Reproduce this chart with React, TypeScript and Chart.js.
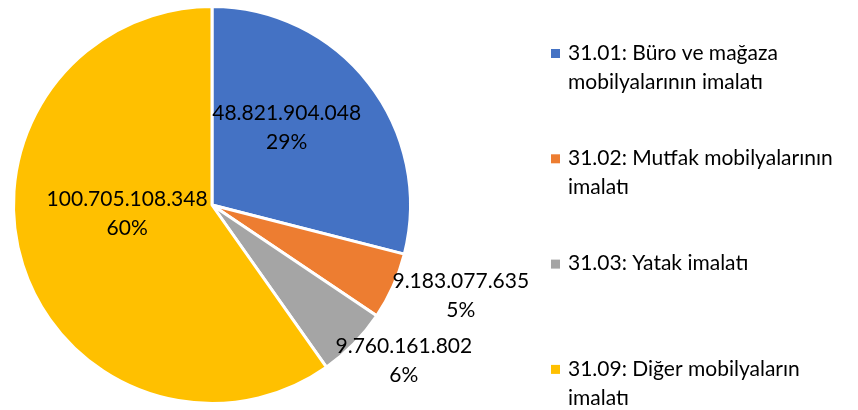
import React, { useEffect, useRef } from "react";
import { Chart, registerables } from "chart.js";

Chart.register(...registerables);

const categories: string[][] = [
  ["31.01: Büro ve mağaza", "mobilyalarının imalatı"],
  ["31.02: Mutfak mobilyalarının", "imalatı"],
  ["31.03: Yatak imalatı"],
  ["31.09: Diğer mobilyaların", "imalatı"],
];
const values: number[] = [48821904048, 9183077635, 9760161802, 100705108348];
const colors: string[] = ["#4472C4", "#ED7D31", "#A5A5A5", "#FFC000"];

// label placement style: [radius factor, angle shift in degrees]
const labelPlacement: [number, number][] = [
  [0.54, -8],
  [1.335, -4],
  [1.245, -5.3],
  [0.43, 11.6],
];

const FONT = "Lato, Carlito, 'Open Sans', sans-serif";

function fmt(n: number): string {
  return Math.round(n)
    .toString()
    .replace(/\B(?=(\d{3})+(?!\d))/g, ".");
}

const labelPlugin = {
  id: "pieLabels",
  afterDatasetsDraw(chart: any) {
    const ctx = chart.ctx as CanvasRenderingContext2D;
    const meta = chart.getDatasetMeta(0);
    const data = chart.data.datasets[0].data as number[];
    const total = data.reduce((a, b) => a + b, 0);
    ctx.save();
    ctx.font = `21px ${FONT}`;
    ctx.fillStyle = "#000";
    ctx.textAlign = "center";
    ctx.textBaseline = "middle";
    meta.data.forEach((arc: any, i: number) => {
      const { x, y, startAngle, endAngle, outerRadius } = arc.getProps(
        ["x", "y", "startAngle", "endAngle", "outerRadius"],
        true
      );
      const [rf, shift] = labelPlacement[i];
      const a = (startAngle + endAngle) / 2 + (shift * Math.PI) / 180;
      const cx = x + Math.cos(a) * outerRadius * rf;
      const cy = y + Math.sin(a) * outerRadius * rf;
      ctx.fillText(fmt(data[i]), cx, cy - 14.5);
      ctx.fillText(Math.round((data[i] / total) * 100) + "%", cx, cy + 14.5);
    });
    ctx.restore();
  },
};

const legendPlugin = {
  id: "customLegend",
  afterDraw(chart: any) {
    const ctx = chart.ctx as CanvasRenderingContext2D;
    const labels = chart.data.labels as string[][];
    const bg = chart.data.datasets[0].backgroundColor as string[];
    ctx.save();
    ctx.font = `21px ${FONT}`;
    ctx.textAlign = "left";
    ctx.textBaseline = "middle";
    const x0 = 551;
    const y0 = 53;
    const gap = 105.3;
    const lh = 29;
    labels.forEach((lines, i) => {
      const y = y0 + i * gap;
      ctx.fillStyle = bg[i];
      ctx.fillRect(x0, y - 4, 9, 9);
      ctx.fillStyle = "#000";
      lines.forEach((ln, j) => ctx.fillText(ln, x0 + 17, y + j * lh));
    });
    ctx.restore();
  },
};

export default function App() {
  const ref = useRef<HTMLCanvasElement>(null);
  useEffect(() => {
    document.body.style.margin = "0";
    const chart = new Chart(ref.current!, {
      type: "pie",
      data: {
        labels: categories as any,
        datasets: [
          {
            data: values,
            backgroundColor: colors,
            borderColor: "#ffffff",
            borderWidth: 3,
          },
        ],
      },
      options: {
        responsive: false,
        animation: false,
        layout: { padding: { left: 12, right: 446, top: 5, bottom: 5 } },
        plugins: {
          legend: { display: false },
          tooltip: { enabled: false },
        },
      },
      plugins: [labelPlugin, legendPlugin],
    });
    return () => chart.destroy();
  }, []);
  return (
    <div style={{ width: 858, height: 410 }}>
      <canvas ref={ref} width={858} height={410} style={{ display: "block" }} />
    </div>
  );
}
